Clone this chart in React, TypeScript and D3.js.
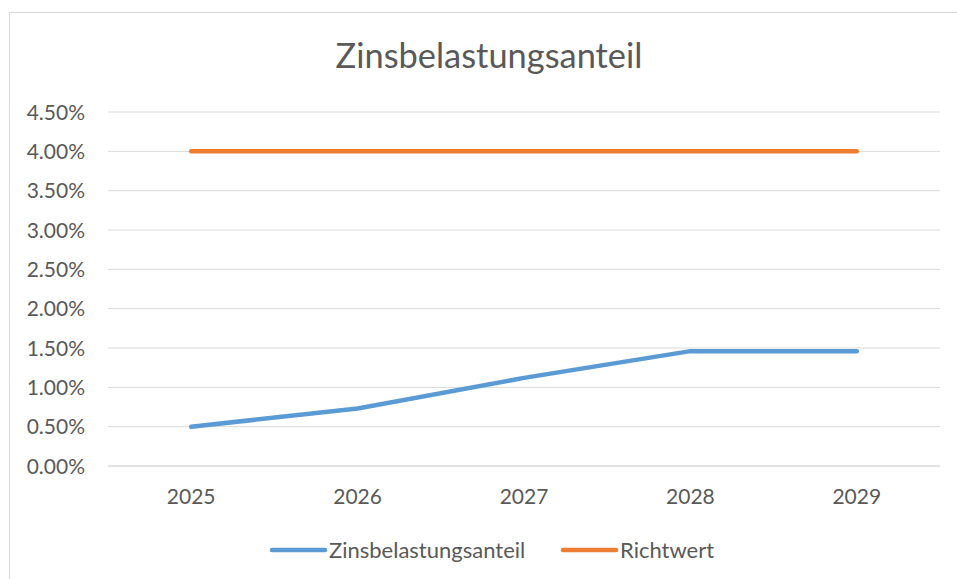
import React from "react";
import * as d3 from "d3";

const years = ["2025", "2026", "2027", "2028", "2029"];
const zinsValues = [0.005, 0.0073, 0.0112, 0.0146, 0.0146];
const richtwertValues = [0.04, 0.04, 0.04, 0.04, 0.04];
const yTicks = [0, 0.005, 0.01, 0.015, 0.02, 0.025, 0.03, 0.035, 0.04, 0.045];
const seriesNames = ["Zinsbelastungsanteil", "Richtwert"];
const colors = ["#5B9BD5", "#ED7D31"];

const W = 957;
const H = 579;
const FONT = "Lato, 'Open Sans', sans-serif";

export default function App() {
  const left = 108, right = 940, top = 112, bottom = 466;
  const x = d3.scalePoint<string>().domain(years).range([left, right]).padding(0.5);
  const y = d3.scaleLinear().domain([0, 0.045]).range([bottom, top]);
  const line = d3.line<number>().x((_, i) => x(years[i]) as number).y((d) => y(d));
  const series = [zinsValues, richtwertValues];

  return (
    <svg width={W} height={H} style={{ position: "absolute", left: 0, top: 0 }}>
      <rect x={0} y={0} width={W} height={H} fill="#fff" />
      <rect x={9.5} y={12.5} width={W} height={H} fill="#fff" stroke="#d9d9d9" strokeWidth={1} />
      <text x={489} y={68} textAnchor="middle" fontFamily={FONT} fontSize={34.4} fill="#595959">
        Zinsbelastungsanteil
      </text>
      {yTicks.map((t) => (
        <g key={t}>
          <line x1={left} x2={right} y1={y(t)} y2={y(t)} stroke="#d9d9d9" strokeWidth={t === 0 ? 1.6 : 1} />
          <text x={85} y={y(t) + 7.5} textAnchor="end" fontFamily={FONT} fontSize={21} fill="#595959">
            {d3.format(".2%")(t)}
          </text>
        </g>
      ))}
      {years.map((yr) => (
        <text key={yr} x={x(yr)} y={504} textAnchor="middle" fontFamily={FONT} fontSize={21} fill="#595959">
          {yr}
        </text>
      ))}
      {series.map((s, i) => (
        <path key={i} d={line(s) || ""} fill="none" stroke={colors[i]} strokeWidth={4.5} strokeLinecap="round" strokeLinejoin="round" />
      ))}
      {[
        { lx: 272, tx: 329 },
        { lx: 563, tx: 620 },
      ].map((p, i) => (
        <g key={i}>
          <line x1={p.lx} x2={p.lx + 53} y1={550} y2={550} stroke={colors[i]} strokeWidth={4.5} strokeLinecap="round" />
          <text x={p.tx} y={557.5} fontFamily={FONT} fontSize={22} fill="#595959">
            {seriesNames[i]}
          </text>
        </g>
      ))}
    </svg>
  );
}
